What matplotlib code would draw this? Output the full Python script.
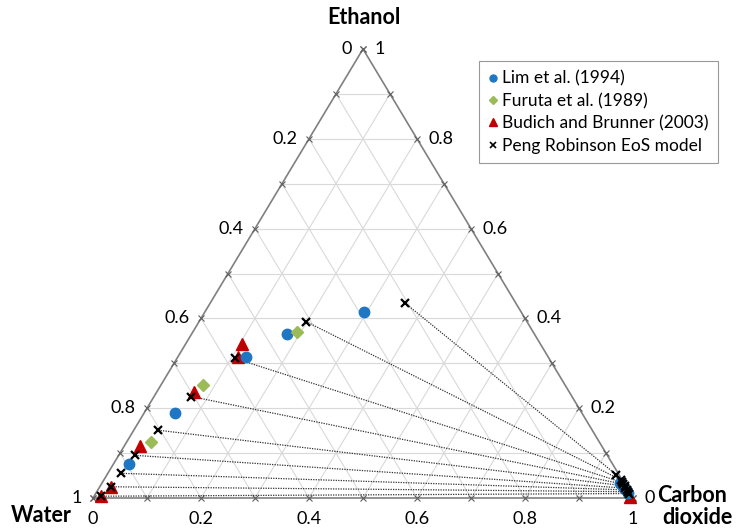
import matplotlib
matplotlib.use("Agg")
import matplotlib.pyplot as plt
from matplotlib.lines import Line2D
import numpy as np

# Compositions as mole fractions (CO2, ethanol); water = 1 - CO2 - ethanol
lim_co2 = [0.295, 0.176, 0.126, 0.058, 0.028, 0.960, 0.966, 0.972, 0.978, 0.985]
lim_eth = [0.414, 0.365, 0.314, 0.189, 0.076, 0.033, 0.028, 0.022, 0.017, 0.012]

furuta_co2 = [0.194, 0.078, 0.045]
furuta_eth = [0.369, 0.251, 0.124]

budich_co2 = [0.104, 0.111, 0.069, 0.029, 0.020, 0.012, 0.993]
budich_eth = [0.342, 0.315, 0.235, 0.116, 0.025, 0.004, 0.002]

pr_liq_co2 = [0.361, 0.198, 0.107, 0.069, 0.045, 0.030, 0.024, 0.020, 0.012]
pr_liq_eth = [0.434, 0.393, 0.311, 0.226, 0.151, 0.095, 0.055, 0.025, 0.004]
pr_vap_co2 = [0.943, 0.958, 0.962, 0.966, 0.971, 0.975, 0.979, 0.983, 0.987]
pr_vap_eth = [0.052, 0.040, 0.035, 0.031, 0.027, 0.022, 0.018, 0.014, 0.010]

tick_values = [0, 0.2, 0.4, 0.6, 0.8, 1]
tick_labels = ["0", "0.2", "0.4", "0.6", "0.8", "1"]

series_names = ["Lim et al. (1994)", "Furuta et al. (1989)",
                "Budich and Brunner (2003)", "Peng Robinson EoS model"]

FONT = ["Lato", "DejaVu Sans"]
plt.rcParams["font.family"] = FONT

BLUE = "#1f77c4"
GREEN = "#9bbb59"
RED = "#c00000"


def to_xy(co2, eth):
    co2 = np.asarray(co2, float)
    eth = np.asarray(eth, float)
    return co2 + eth / 2.0, eth


fig = plt.figure(figsize=(7.36, 5.28), dpi=100)
W, H = 736, 528
# triangle: water (93,498), CO2 (633,498), ethanol apex (363,49) in pixels
ax = fig.add_axes([93 / W, (H - 498) / H, 540 / W, 449 / H])
ax.set_xlim(0, 1)
ax.set_ylim(0, 1)
ax.axis("off")

grid_c = "#d9d9d9"
edge_c = "#808080"

# grid lines every 0.1 in the three directions
for v in np.arange(0.1, 1.0, 0.1):
    x0, y0 = to_xy(0, v)
    x1, y1 = to_xy(1 - v, v)
    ax.plot([x0, x1], [y0, y1], color=grid_c, lw=0.8, zorder=1)
    x0, y0 = to_xy(v, 0)
    x1, y1 = to_xy(v, 1 - v)
    ax.plot([x0, x1], [y0, y1], color=grid_c, lw=0.8, zorder=1)
    x0, y0 = to_xy(1 - v, 0)
    x1, y1 = to_xy(0, 1 - v)
    ax.plot([x0, x1], [y0, y1], color=grid_c, lw=0.8, zorder=1)

# triangle edges
tx, ty = to_xy([0, 1, 0, 0], [0, 0, 1, 0])
ax.plot(tx, ty, color=edge_c, lw=1.2, zorder=2, clip_on=False)

# cross tick marks along the edges
tv = np.round(np.arange(0, 1.01, 0.1), 2)
for a, b in [(tv, np.zeros_like(tv)), (np.zeros_like(tv), tv), (1 - tv, tv)]:
    x, y = to_xy(a, b)
    ax.plot(x, y, ls="none", marker="x", ms=4, mew=0.8, color="#606060",
            zorder=2, clip_on=False)

# tie lines
for lc, le, vc, ve in zip(pr_liq_co2, pr_liq_eth, pr_vap_co2, pr_vap_eth):
    x, y = to_xy([lc, vc], [le, ve])
    ax.plot(x, y, ls=(0, (1, 1)), color="#303030", lw=0.9, zorder=3,
            clip_on=False)

x, y = to_xy(lim_co2, lim_eth)
ax.plot(x, y, ls="none", marker="o", ms=7.5, color=BLUE, zorder=5,
        clip_on=False)
x, y = to_xy(furuta_co2, furuta_eth)
ax.plot(x, y, ls="none", marker="D", ms=6, color=GREEN, zorder=5,
        clip_on=False)
x, y = to_xy(budich_co2, budich_eth)
ax.plot(x, y, ls="none", marker="^", ms=8, color=RED, zorder=4,
        clip_on=False)
x, y = to_xy(pr_liq_co2 + pr_vap_co2, pr_liq_eth + pr_vap_eth)
ax.plot(x, y, ls="none", marker="x", ms=5.5, mew=1.6, color="black",
        zorder=6, clip_on=False)

# tick labels
lab_kw = dict(fontsize=13, color="black", annotation_clip=False)
for v, s in zip(tick_values, tick_labels):
    x, y = to_xy(0, 1 - v)
    ax.annotate(s, (x, y), xytext=(-8, 0), textcoords="offset points",
                ha="right", va="center", **lab_kw)
    x, y = to_xy(1 - v, v)
    ax.annotate(s, (x, y), xytext=(8, 0), textcoords="offset points",
                ha="left", va="center", **lab_kw)
    # base labels sit just above the lower figure edge
    x, _ = to_xy(v, 0)
    ax.annotate(s, (x, 0), xycoords=("data", "figure fraction"),
                xytext=(0, 1), textcoords="offset pixels",
                ha="center", va="bottom", **lab_kw)

# vertex titles
title_kw = dict(fontsize=15.5, fontweight="bold", color="black")
fig.text(364 / W, 1 - 17 / H, "Ethanol", ha="center", va="center", **title_kw)
fig.text(41 / W, 1 - 515 / H, "Water", ha="center", va="center", **title_kw)
fig.text(692 / W, 1 - 495 / H, "Carbon", ha="center", va="center", **title_kw)
fig.text(697 / W, 1 - 517 / H, "dioxide", ha="center", va="center", **title_kw)

handles = [
    Line2D([], [], ls="none", marker="o", ms=5, color=BLUE),
    Line2D([], [], ls="none", marker="D", ms=4, color=GREEN),
    Line2D([], [], ls="none", marker="^", ms=6, color=RED),
    Line2D([], [], ls="none", marker="x", ms=4, mew=1.2, color="black"),
]
leg = fig.legend(handles, series_names, loc="upper left",
                 bbox_to_anchor=(479 / W, 1 - 61 / H),
                 bbox_transform=fig.transFigure, fontsize=12.5, frameon=True,
                 fancybox=False, edgecolor="#808080", handlelength=0.5,
                 handletextpad=0.3, borderpad=0.55, labelspacing=0.36,
                 borderaxespad=0)
leg.get_frame().set_linewidth(0.8)

fig.savefig("out.png", dpi=100)
